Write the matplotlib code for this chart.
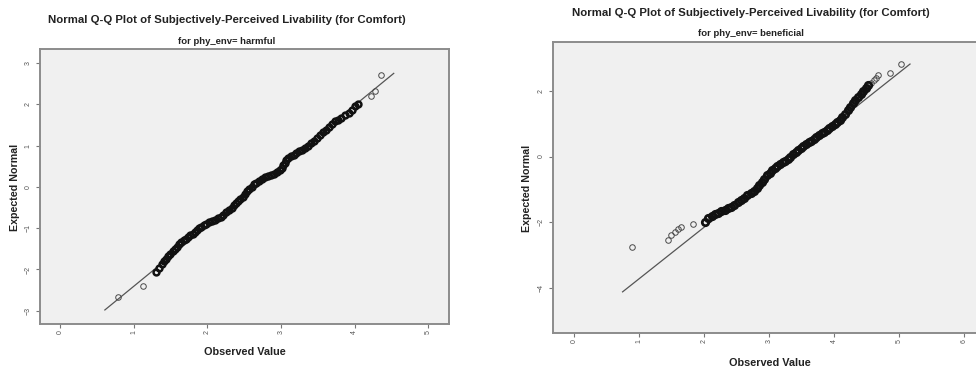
import matplotlib.pyplot as plt

# values
title = "Normal Q-Q Plot of Subjectively-Perceived Livability (for Comfort)"
subtitles = ["for phy_env= harmful", "for phy_env= beneficial"]

harm_obs = [0.79, 1.13, 1.30, 1.34, 1.38, 1.41, 1.44, 1.47, 1.50, 1.53,
            1.56, 1.59, 1.62, 1.65, 1.68, 1.71, 1.74, 1.77, 1.80, 1.83,
            1.86, 1.89, 1.92, 1.95, 1.98, 2.02, 2.06, 2.10, 2.14, 2.18,
            2.22, 2.26, 2.30, 2.33, 2.36, 2.39, 2.42, 2.45, 2.48, 2.51,
            2.54, 2.57, 2.60, 2.63, 2.66, 2.70, 2.74, 2.78, 2.82, 2.86,
            2.90, 2.94, 2.98, 3.01, 3.03, 3.05, 3.07, 3.10, 3.13, 3.17,
            3.21, 3.25, 3.29, 3.33, 3.37, 3.41, 3.45, 3.49, 3.53, 3.57,
            3.61, 3.65, 3.69, 3.73, 3.77, 3.82, 3.87, 3.92, 3.97, 4.01,
            4.05, 4.22, 4.27, 4.36]
harm_exp = [-2.66, -2.41, -2.05, -1.96, -1.87, -1.80, -1.74, -1.68, -1.62, -1.56,
            -1.50, -1.45, -1.39, -1.34, -1.29, -1.25, -1.21, -1.17, -1.13, -1.08,
            -1.04, -1.00, -0.96, -0.93, -0.90, -0.86, -0.83, -0.79, -0.76, -0.72,
            -0.67, -0.61, -0.55, -0.50, -0.45, -0.40, -0.35, -0.30, -0.24, -0.18,
            -0.11, -0.05, 0.01, 0.06, 0.10, 0.15, 0.19, 0.23, 0.26, 0.29,
            0.32, 0.36, 0.40, 0.45, 0.52, 0.59, 0.65, 0.70, 0.74, 0.78,
            0.82, 0.86, 0.90, 0.95, 1.00, 1.06, 1.12, 1.18, 1.25, 1.32,
            1.39, 1.46, 1.53, 1.59, 1.63, 1.68, 1.73, 1.78, 1.86, 1.95,
            2.02, 2.20, 2.32, 2.70]
harm_line_x = [0.61, 4.53]
harm_line_y = [-2.98, 2.75]

ben_obs = [0.89, 1.45, 1.50, 1.55, 1.60, 1.65, 1.84, 2.02, 2.07, 2.12,
           2.17, 2.22, 2.27, 2.32, 2.37, 2.42, 2.47, 2.52, 2.57, 2.62,
           2.67, 2.72, 2.77, 2.81, 2.85, 2.89, 2.93, 2.97, 3.01, 3.05,
           3.09, 3.13, 3.17, 3.21, 3.25, 3.29, 3.33, 3.37, 3.41, 3.45,
           3.49, 3.53, 3.57, 3.61, 3.65, 3.69, 3.73, 3.77, 3.81, 3.85,
           3.89, 3.93, 3.97, 4.01, 4.05, 4.09, 4.13, 4.17, 4.21, 4.25,
           4.29, 4.33, 4.37, 4.41, 4.45, 4.49, 4.53, 4.57, 4.61, 4.65,
           4.68, 4.86, 5.03]
ben_exp = [-2.75, -2.53, -2.38, -2.28, -2.20, -2.15, -2.04, -1.98, -1.88, -1.80,
           -1.74, -1.70, -1.66, -1.62, -1.57, -1.52, -1.46, -1.39, -1.32, -1.25,
           -1.18, -1.12, -1.05, -0.97, -0.87, -0.77, -0.67, -0.57, -0.49, -0.42,
           -0.36, -0.30, -0.24, -0.18, -0.12, -0.06, 0.00, 0.07, 0.14, 0.21,
           0.27, 0.33, 0.38, 0.43, 0.48, 0.53, 0.59, 0.65, 0.71, 0.76,
           0.82, 0.87, 0.92, 0.98, 1.05, 1.12, 1.20, 1.28, 1.40, 1.52,
           1.62, 1.72, 1.82, 1.91, 2.00, 2.08, 2.16, 2.24, 2.32, 2.40,
           2.47, 2.55, 2.81]
ben_line_x = [0.75, 5.17]
ben_line_y = [-4.11, 2.81]

harm_xticks = [0, 1, 2, 3, 4, 5]
harm_yticks = [-3, -2, -1, 0, 1, 2, 3]
ben_xticks = [0, 1, 2, 3, 4, 5, 6]
ben_yticks = [-4, -2, 0, 2]

plt.rcParams['font.family'] = ['Liberation Sans', 'DejaVu Sans']

W, H = 976, 371
fig = plt.figure(figsize=(W / 100, H / 100), dpi=100)


def px_axes(l, t, r, b):
    return fig.add_axes([l / W, 1 - b / H, (r - l) / W, (b - t) / H])


def style(ax, xt, yt):
    ax.set_facecolor('#f0f0f0')
    for s in ax.spines.values():
        s.set_color('#8c8c8c')
        s.set_linewidth(1.4)
    ax.set_xticks(xt)
    ax.set_yticks(yt)
    ax.tick_params(length=3, width=0.8, color='#777777', labelsize=5,
                   labelcolor='#555555', pad=3)
    for lab in ax.get_xticklabels() + ax.get_yticklabels():
        lab.set_rotation(90)
        lab.set_va('center')


def qq(ax, obs, exp, lo, hi, ms, mew):
    # sparse tails as thin open circles, the packed middle as a dark band
    tail_x = obs[:lo] + obs[hi:]
    tail_y = exp[:lo] + exp[hi:]
    ax.plot(tail_x, tail_y, 'o', ms=4, mfc='none', mec='#4a4a4a', mew=0.7)
    ax.plot(obs[lo:hi], exp[lo:hi], 'o', ms=ms, mfc='none', mec='#111111',
            mew=mew)


ax1 = px_axes(40, 49, 449, 324)
ax1.plot(harm_line_x, harm_line_y, color='#555555', lw=0.9)
qq(ax1, harm_obs, harm_exp, 2, -3, 4.2, 1.8)
ax1.set_xlim(-0.27, 5.28)
ax1.set_ylim(-3.32, 3.34)
style(ax1, harm_xticks, harm_yticks)

ax2 = px_axes(553, 42, 990, 333)
ax2.plot(ben_line_x, ben_line_y, color='#555555', lw=0.9)
qq(ax2, ben_obs, ben_exp, 7, -6, 4.6, 2.0)
ax2.set_xlim(-0.32, 6.40)
ax2.set_ylim(-5.36, 3.48)
style(ax2, ben_xticks, ben_yticks)

# titles and axis labels
for cx, ty, sy, sub in [(227, 20, 41, subtitles[0]), (751, 13, 34, subtitles[1])]:
    fig.text(cx / W, 1 - ty / H, title, ha='center', va='center',
             fontsize=8.2, fontweight='bold', color='#222222')
    fig.text(cx / W, 1 - sy / H, sub, ha='center', va='center',
             fontsize=6.8, fontweight='bold', color='#222222')

fig.text(15 / W, 1 - 187 / H, "Expected Normal", rotation=90, ha='center',
         va='center', fontsize=7.7, fontweight='bold', color='#222222')
fig.text(527 / W, 1 - 188 / H, "Expected Normal", rotation=90, ha='center',
         va='center', fontsize=7.7, fontweight='bold', color='#222222')
fig.text(245 / W, 1 - 352 / H, "Observed Value", ha='center', va='center',
         fontsize=7.8, fontweight='bold', color='#222222')
fig.text(770 / W, 1 - 363 / H, "Observed Value", ha='center', va='center',
         fontsize=7.8, fontweight='bold', color='#222222')

fig.savefig('out.png', dpi=100)
